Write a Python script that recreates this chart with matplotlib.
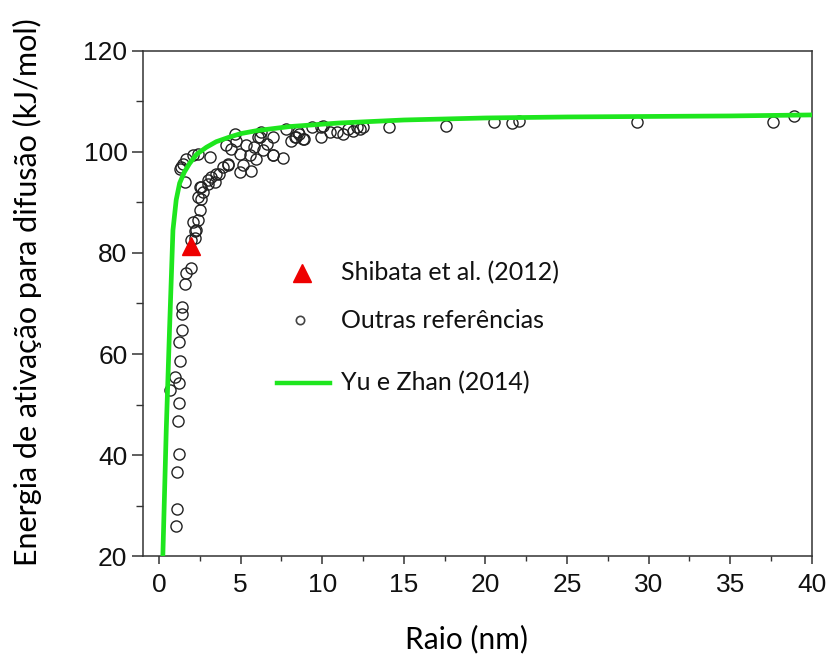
import matplotlib
matplotlib.use("Agg")
import matplotlib.pyplot as plt
from matplotlib.ticker import MultipleLocator

# model curve, Yu e Zhan (2014)
curve_r = [0.23, 0.44, 0.64, 0.85, 1.05, 1.26, 1.55, 1.87, 2.3, 2.9, 3.5, 4.3,
           5.0, 6.0, 8.0, 11.0, 15.0, 20.0, 25.0, 30.0, 35.0, 40.0]
curve_e = [20.0, 45.0, 64.8, 84.5, 90.5, 93.8, 96.0, 97.7, 99.5, 100.9, 102.0, 102.9,
           103.6, 104.2, 105.0, 105.7, 106.3, 106.7, 106.9, 107.0, 107.1, 107.3]

# Shibata et al. (2012)
shibata_r = [1.97]
shibata_e = [81.3]

# other references
outras_r = [1.05, 1.12, 1.12, 1.20, 1.15, 1.20, 0.64, 1.22, 1.00, 1.26, 1.20, 1.38,
            1.40, 1.38, 1.60, 1.67, 1.93, 1.93, 2.22, 2.18, 2.28, 2.38, 2.48, 2.59,
            2.69, 2.48, 3.00, 3.40, 3.70, 4.20, 3.20, 2.07, 2.38, 2.59,
            1.26, 1.46, 1.67, 2.07, 2.38, 3.10, 1.56, 1.35,
            4.12, 4.70, 4.63, 5.35, 4.94, 5.55, 5.14, 4.94, 5.65, 5.96, 6.37, 6.06,
            6.27, 6.98, 6.98, 7.60, 7.80, 8.10, 8.40, 8.60, 8.90, 9.95, 9.40, 10.05,
            10.90, 3.50, 3.90, 4.20, 3.00, 6.17, 7.00, 8.30, 8.50, 8.80, 9.95,
            11.30, 11.60, 11.90, 12.30, 12.50, 14.10, 17.60, 20.50, 21.60, 22.05,
            29.30, 37.60, 38.90, 5.80, 6.60, 4.40, 10.50, 12.10]
outras_e = [26.0, 29.4, 36.6, 40.3, 46.8, 50.4, 52.9, 54.3, 55.4, 58.6, 62.4, 64.8,
            67.9, 69.4, 73.8, 76.0, 77.1, 82.5, 82.9, 84.4, 84.5, 86.5, 88.4, 90.7,
            92.1, 93.0, 93.7, 94.0, 95.7, 97.3, 95.0, 86.1, 91.1, 93.0,
            96.7, 97.6, 98.6, 99.3, 99.6, 99.0, 94.0, 97.0,
            101.3, 102.2, 103.6, 101.3, 99.6, 99.3, 97.3, 96.0, 96.3, 98.6, 100.3, 102.9,
            103.9, 102.9, 99.3, 98.8, 104.5, 102.2, 102.9, 103.6, 102.6, 102.9, 104.9, 105.2,
            103.9, 95.7, 97.0, 97.6, 94.4, 102.9, 99.3, 102.9, 103.9, 102.6, 104.9,
            103.6, 104.5, 104.2, 104.5, 104.9, 104.9, 105.2, 105.9, 105.7, 106.1,
            106.0, 106.0, 107.0, 101.0, 101.5, 100.5, 104.0, 105.0]

label_font = "Lato"
tick_font = "Liberation Sans"
green = "#1ee61e"

fig = plt.figure(figsize=(8.3, 6.59), dpi=100)
ax = fig.add_axes([0.172, 0.156, 0.806, 0.767])

ax.plot(outras_r, outras_e, "o", ms=8, mfc="none", mec="#222222", mew=1.0, zorder=2)
ax.plot(curve_r, curve_e, "-", color=green, lw=3.4, zorder=3)
ax.plot(shibata_r, shibata_e, "^", ms=13, color="#ee0000", mec="#ee0000", zorder=4)

ax.set_xlim(-1, 40)
ax.set_ylim(20, 120)
ax.xaxis.set_major_locator(MultipleLocator(5))
ax.xaxis.set_minor_locator(MultipleLocator(2.5))
ax.yaxis.set_major_locator(MultipleLocator(20))
ax.yaxis.set_minor_locator(MultipleLocator(10))

for s in ax.spines.values():
    s.set_color("#333333")
    s.set_linewidth(1.1)
ax.tick_params(axis="x", which="major", length=6, width=1.1, color="#333333", pad=6)
ax.tick_params(axis="x", which="minor", length=3.5, width=1.0, color="#333333")
ax.tick_params(axis="y", which="major", length=8, width=1.1, color="#333333", pad=3)
ax.tick_params(axis="y", which="minor", length=5, width=1.0, color="#333333")
for lab in ax.get_xticklabels() + ax.get_yticklabels():
    lab.set_fontfamily(tick_font)
    lab.set_fontsize(19)
    lab.set_color("#111111")

ax.set_xlabel("Raio (nm)", fontfamily=label_font, fontsize=21.5)
ax.set_ylabel("Energia de ativação para difusão (kJ/mol)", fontfamily=label_font,
              fontsize=22)
ax.xaxis.set_label_coords(0.484, -0.135)
ax.yaxis.set_label_coords(-0.150, 0.523)

# hand-placed legend
leg_items = [
    ("^", "Shibata et al. (2012)", 0.560),
    ("o", "Outras referências", 0.467),
    ("-", "Yu e Zhan (2014)", 0.343),
]
for kind, text, yy in leg_items:
    if kind == "^":
        ax.plot([0.238], [yy], "^", ms=13, color="#ee0000", transform=ax.transAxes)
    elif kind == "o":
        ax.plot([0.235], [yy], "o", ms=6, mfc="none", mec="#444444", mew=1.2,
                transform=ax.transAxes)
    else:
        ax.plot([0.200, 0.280], [yy, yy], "-", color=green, lw=3.2, transform=ax.transAxes)
    ax.text(0.297, yy, text, transform=ax.transAxes, fontfamily=label_font,
            fontsize=18, va="center", ha="left", color="#111111")

fig.savefig("out.png", dpi=100, facecolor="white")
